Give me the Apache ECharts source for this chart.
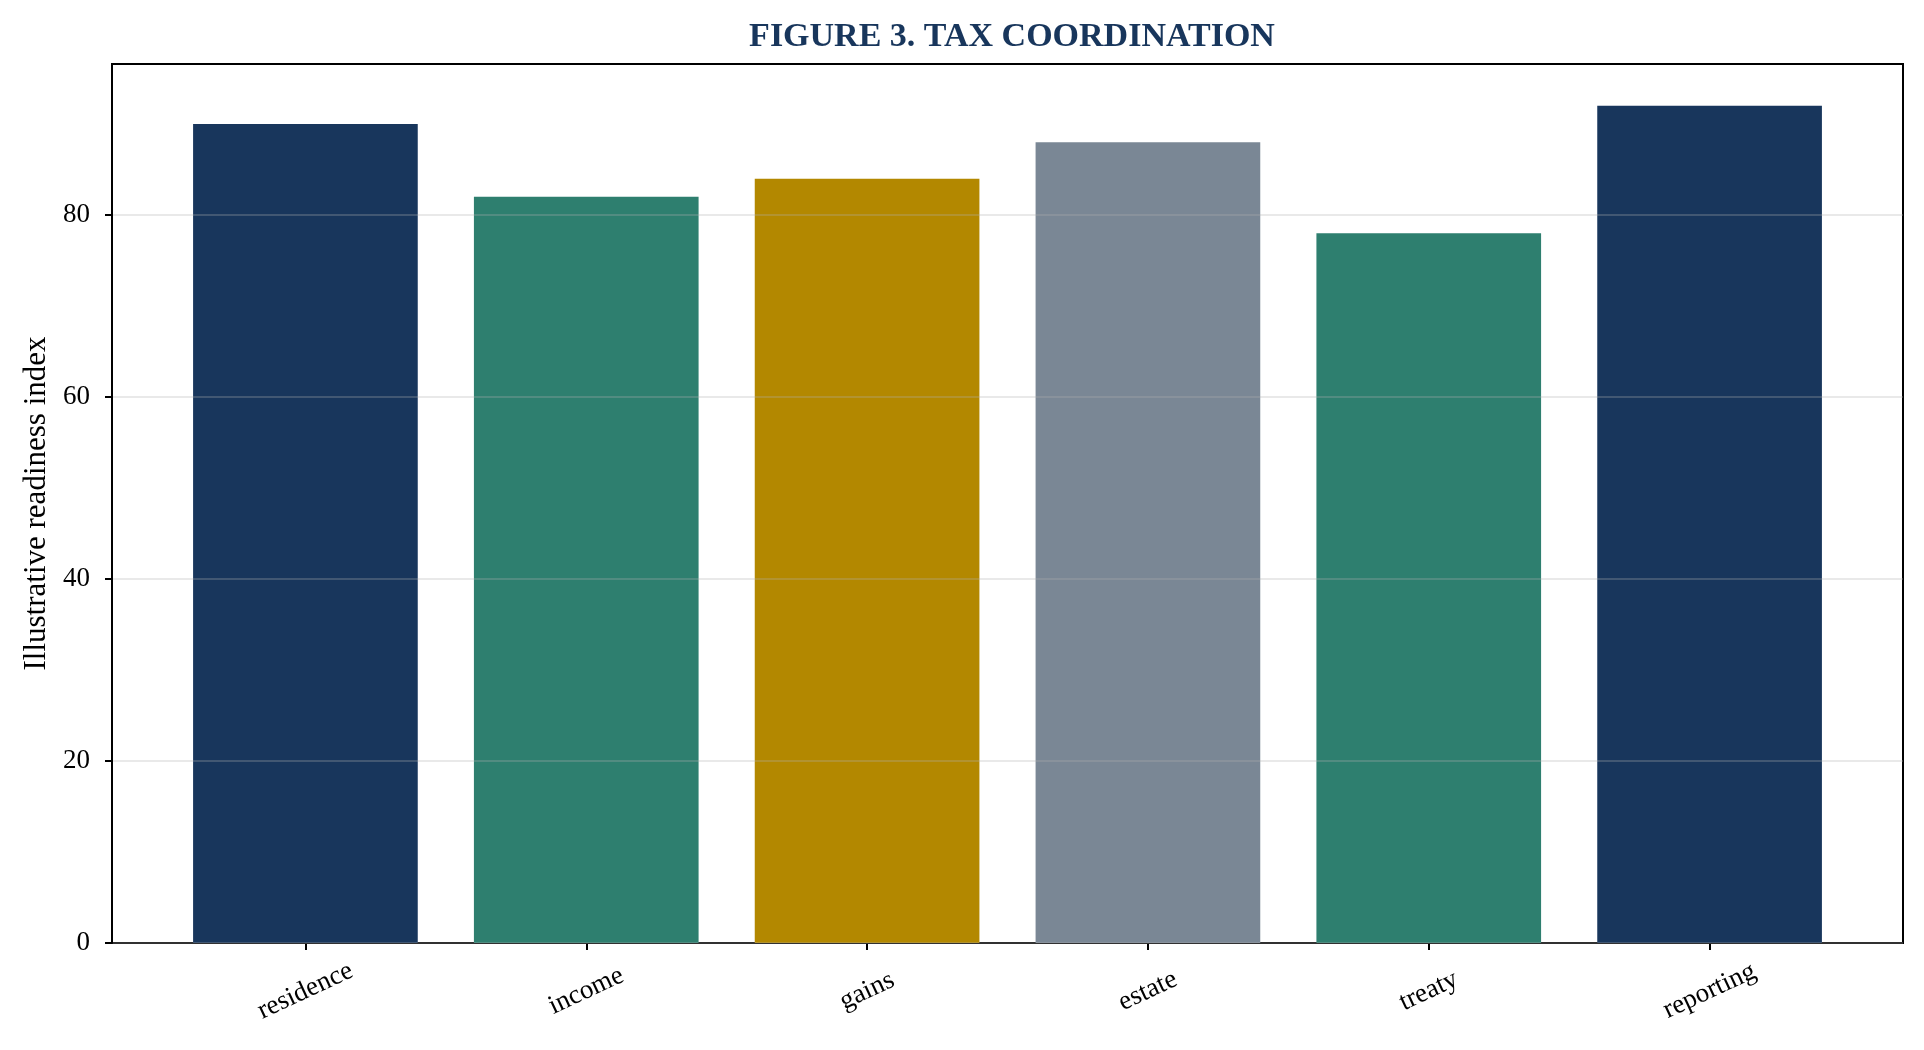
<!DOCTYPE html>
<html>
<head>
<meta charset="utf-8">
<script src="https://cdn.jsdelivr.net/npm/echarts@6/dist/echarts.min.js"></script>
<style>
  html, body { margin: 0; padding: 0; background: #fff; }
  #chart { width: 1924px; height: 1050px; }
</style>
</head>
<body>
<div id="chart"></div>
<script>
const categories = ['residence', 'income', 'gains', 'estate', 'treaty', 'reporting'];
const readiness = [90, 82, 84, 88, 78, 92];
const yTicks = [0, 20, 40, 60, 80];
const barColors = ['#18365c', '#2e7f6f', '#b38800', '#7a8795', '#2e7f6f', '#18365c'];

const font = 'Liberation Serif';
const yMax = 96.6;

const chart = echarts.init(document.getElementById('chart'));

chart.setOption({
    animation: false,
    backgroundColor: '#fff',
    title: {
        text: 'FIGURE 3. TAX COORDINATION',
        // centred over the plot frame, not the page
        left: 1007,
        textAlign: 'center',
        top: 15,
        textStyle: { fontFamily: font, fontSize: 34, fontWeight: 'bold', color: '#18365c' }
    },
    grid: [
        // frame box
        { left: 112, right: 21, top: 64, bottom: 107, show: true, borderColor: '#000', borderWidth: 2, backgroundColor: 'transparent' },
        // bars, inset to leave matplotlib-style margins
        { left: 165, right: 74, top: 64, bottom: 107 }
    ],
    xAxis: [
        { type: 'value', gridIndex: 0, min: 0, max: 1, show: false },
        {
            type: 'category',
            gridIndex: 1,
            data: categories,
            axisLine: { show: false },
            axisTick: { show: true, alignWithLabel: true, length: 7, lineStyle: { color: '#000', width: 2 } },
            axisLabel: {
                rotate: 25,
                align: 'center',
                verticalAlign: 'middle',
                margin: 48,
                fontFamily: font,
                fontSize: 27,
                color: '#000'
            }
        }
    ],
    yAxis: [
        {
            type: 'value',
            gridIndex: 0,
            min: 0,
            max: yMax,
            interval: 20,
            z: 5,
            name: 'Illustrative readiness index',
            nameLocation: 'middle',
            nameGap: 60,
            nameTextStyle: { fontFamily: font, fontSize: 31, color: '#000' },
            axisLine: { show: true, lineStyle: { color: '#000', width: 2 } },
            axisTick: { show: true, length: 7, customValues: yTicks, lineStyle: { color: '#000', width: 2 } },
            axisLabel: { customValues: yTicks, fontFamily: font, fontSize: 27, color: '#000', margin: 22 },
            splitLine: { show: true, lineStyle: { color: 'rgba(176,176,176,0.28)', width: 2 } }
        },
        { type: 'value', gridIndex: 1, min: 0, max: yMax, show: false }
    ],
    series: [{
        type: 'bar',
        xAxisIndex: 1,
        yAxisIndex: 1,
        barWidth: '80%',
        z: 2,
        data: readiness.map((v, i) => ({ value: v, itemStyle: { color: barColors[i] } }))
    }]
});
</script>
</body>
</html>
